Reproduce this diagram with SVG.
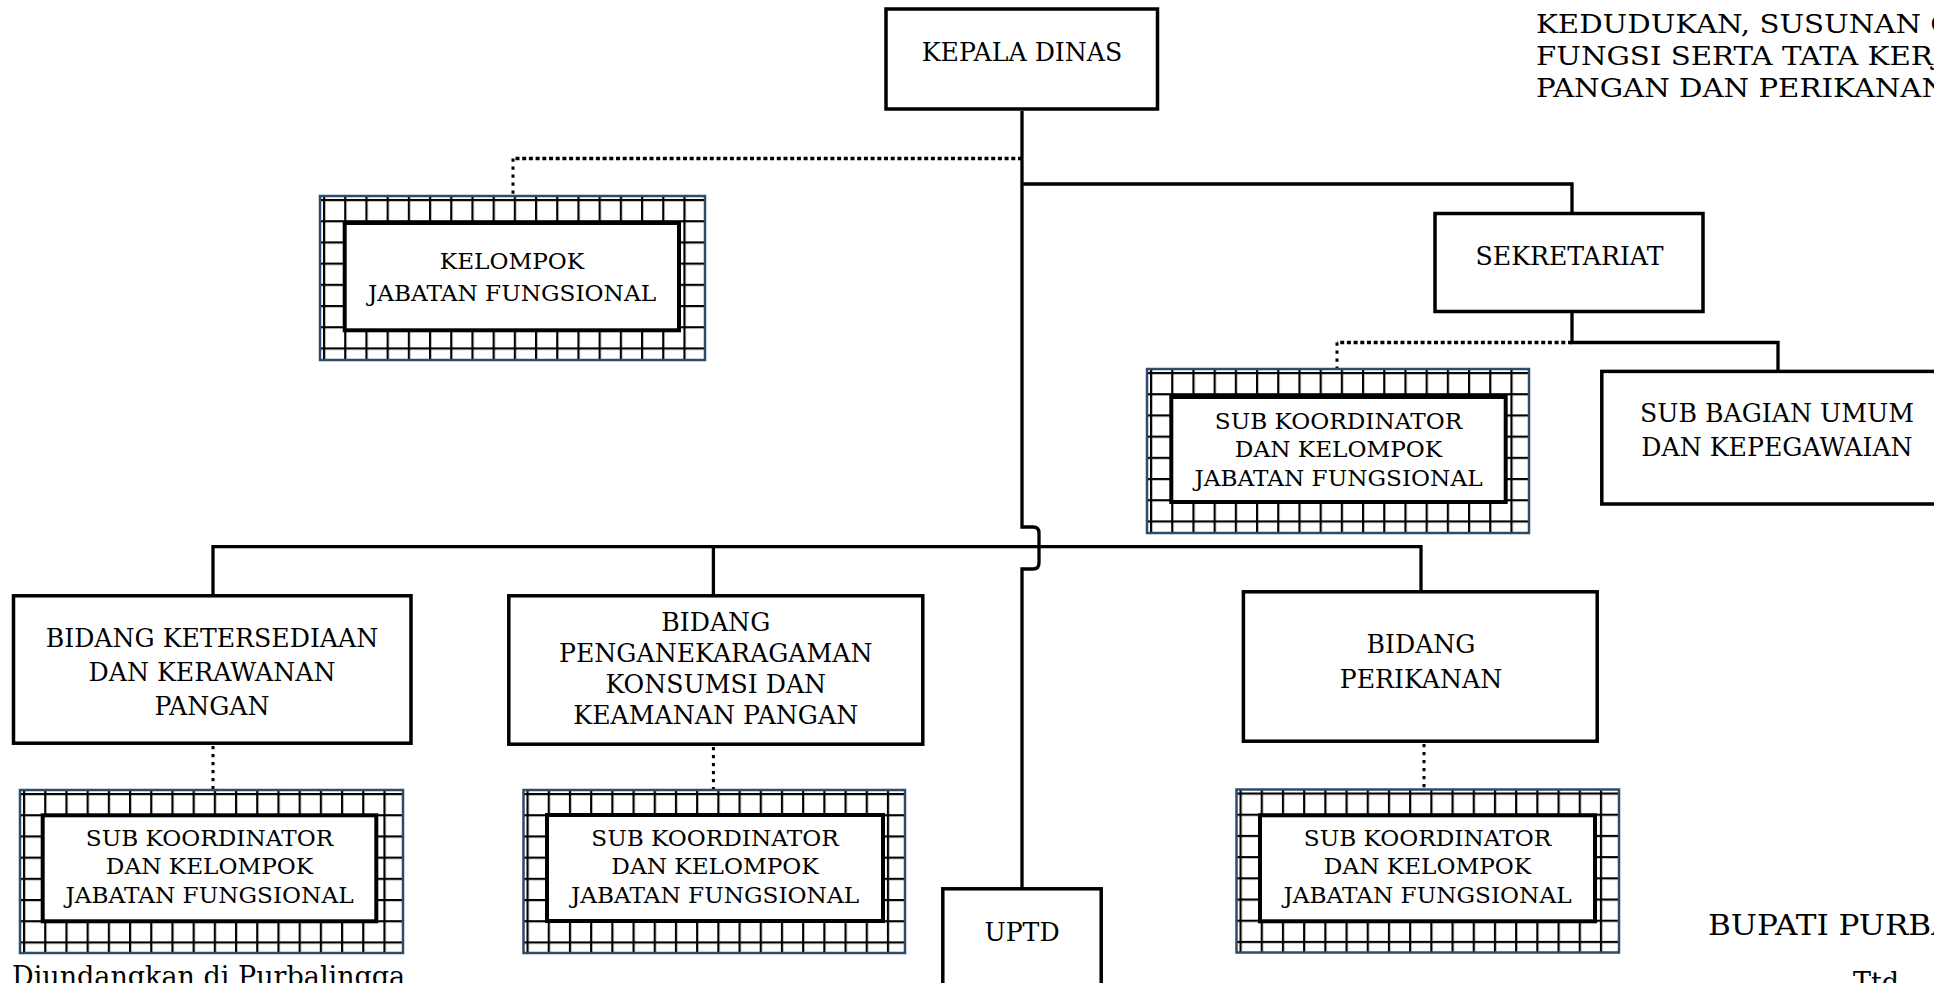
<svg xmlns="http://www.w3.org/2000/svg" width="1934" height="983" viewBox="0 0 1934 983">
<defs>
<pattern id="grid" x="3" y="3" width="21.2" height="21.2" patternUnits="userSpaceOnUse">
<rect width="21.2" height="21.2" fill="#fff"/>
<path d="M1.1,0 V21.2 M0,1.1 H21.2" stroke="#000" stroke-width="2.2" fill="none"/>
</pattern>
<style>
.box{fill:#fff;stroke:#000;stroke-width:3.5}
.pat{fill:url(#grid);stroke:#2f4b6c;stroke-width:2.5}
.inner{fill:#fff;stroke:#000;stroke-width:4}
.t{font-family:"DejaVu Serif","Liberation Serif",serif;font-size:25.2px;fill:#000;text-anchor:middle}
.ts{font-family:"DejaVu Serif","Liberation Serif",serif;font-size:23.2px;fill:#000;text-anchor:middle}
.tl{font-family:"DejaVu Serif","Liberation Serif",serif;font-size:26px;fill:#000}
.solid{fill:none;stroke:#000;stroke-width:3.3}
.doth{fill:none;stroke:#000;stroke-width:3.3;stroke-dasharray:4 2.7}
.dotv{fill:none;stroke:#000;stroke-width:3;stroke-dasharray:3.3 4.7}
</style>
</defs>
<rect width="1934" height="983" fill="#fff"/>

<g id="connectors">
<path class="solid" d="M1022,111 V527 H1033 Q1039,527 1039,533 V563 Q1039,569 1033,569 H1022 V888"/>
<path class="solid" d="M1022,184 H1572 V212"/>
<path class="solid" d="M1572,313 V342.5 H1778 V370"/>
<path class="solid" d="M213,595 V546.7 H1421 V591"/>
<path class="solid" d="M713.4,546.7 V595"/>
<path class="doth" d="M1022,158.5 H513"/>
<path class="dotv" d="M513,158.5 V196"/>
<path class="doth" d="M1572,342.5 H1337"/>
<path class="dotv" d="M1337,342.5 V369"/>
<path class="dotv" d="M213,746 V790"/>
<path class="dotv" d="M713.4,747 V790"/>
<path class="dotv" d="M1424,744 V789"/>
</g>

<g id="kepala-dinas">
<rect class="box" x="886" y="9" width="271.5" height="100"/>
<text class="t" x="1022" y="61">KEPALA DINAS</text>
</g>

<g id="kelompok-jf" transform="translate(320,196)">
<rect class="pat" x="0" y="0" width="385" height="164"/>
<rect class="inner" x="24.7" y="27" width="334.3" height="107.3"/>
<text class="ts" x="192" y="73.3">KELOMPOK</text>
<text class="ts" x="192" y="105">JABATAN FUNGSIONAL</text>
</g>

<g id="sekretariat">
<rect class="box" x="1435" y="213.5" width="268" height="98"/>
<text class="t" x="1569.5" y="264.5">SEKRETARIAT</text>
</g>

<g id="subkoor-sekretariat" transform="translate(1147,369)">
<rect class="pat" x="0" y="0" width="382" height="164"/>
<rect class="inner" x="24.3" y="28" width="334.4" height="105"/>
<text class="ts" x="191.5" y="60">SUB KOORDINATOR</text>
<text class="ts" x="191.5" y="87.7">DAN KELOMPOK</text>
<text class="ts" x="191.5" y="116.7">JABATAN FUNGSIONAL</text>
</g>

<g id="sub-bagian-umum">
<rect class="box" x="1601.8" y="371.4" width="360" height="132.6"/>
<text class="t" x="1777" y="421.7">SUB BAGIAN UMUM</text>
<text class="t" x="1777" y="455.8">DAN KEPEGAWAIAN</text>
</g>

<g id="bidang-ketersediaan">
<rect class="box" x="13.5" y="595.8" width="397.5" height="147.4"/>
<text class="t" x="212" y="647.3">BIDANG KETERSEDIAAN</text>
<text class="t" x="212" y="681">DAN KERAWANAN</text>
<text class="t" x="212" y="715">PANGAN</text>
</g>

<g id="bidang-penganekaragaman">
<rect class="box" x="508.8" y="595.8" width="414" height="148.4"/>
<text class="t" x="715.8" y="631">BIDANG</text>
<text class="t" x="715.8" y="662">PENGANEKARAGAMAN</text>
<text class="t" x="715.8" y="693">KONSUMSI DAN</text>
<text class="t" x="715.8" y="724">KEAMANAN PANGAN</text>
</g>

<g id="bidang-perikanan">
<rect class="box" x="1243.4" y="591.8" width="353.8" height="149.4"/>
<text class="t" x="1421" y="653.3">BIDANG</text>
<text class="t" x="1421" y="688.3">PERIKANAN</text>
</g>

<g id="subkoor-ketersediaan" transform="translate(20,790)">
<rect class="pat" x="0" y="0" width="383" height="163"/>
<rect class="inner" x="22.7" y="25.3" width="333.6" height="106"/>
<text class="ts" x="189.5" y="56">SUB KOORDINATOR</text>
<text class="ts" x="189.5" y="84">DAN KELOMPOK</text>
<text class="ts" x="189.5" y="112.7">JABATAN FUNGSIONAL</text>
</g>

<g id="subkoor-penganekaragaman" transform="translate(523.5,790)">
<rect class="pat" x="0" y="0" width="381.5" height="163"/>
<rect class="inner" x="23.5" y="25" width="336" height="106"/>
<text class="ts" x="191.5" y="56">SUB KOORDINATOR</text>
<text class="ts" x="191.5" y="84">DAN KELOMPOK</text>
<text class="ts" x="191.5" y="112.7">JABATAN FUNGSIONAL</text>
</g>

<g id="subkoor-perikanan" transform="translate(1236.5,789.5)">
<rect class="pat" x="0" y="0" width="382.5" height="163"/>
<rect class="inner" x="23.5" y="25.8" width="335" height="106"/>
<text class="ts" x="191" y="56.5">SUB KOORDINATOR</text>
<text class="ts" x="191" y="84.5">DAN KELOMPOK</text>
<text class="ts" x="191" y="113">JABATAN FUNGSIONAL</text>
</g>

<g id="uptd">
<rect class="box" x="942.8" y="888.8" width="158.4" height="120"/>
<text class="t" x="1022" y="941">UPTD</text>
</g>

<g id="captions">
<text class="tl" transform="translate(1536,32.5) scale(1.125,1)">KEDUDUKAN, SUSUNAN ORGANISASI, TUGAS DAN</text>
<text class="tl" transform="translate(1536,64.5) scale(1.125,1)">FUNGSI SERTA TATA KERJA DINAS KETAHANAN</text>
<text class="tl" transform="translate(1536,96.5) scale(1.125,1)">PANGAN DAN PERIKANAN KABUPATEN PURBALINGGA</text>
<text class="tl" transform="translate(1708,934.5) scale(1.15,1)" style="font-size:27px">BUPATI PURBALINGGA</text>
<text class="tl" transform="translate(1853,992)" style="font-size:27px">Ttd</text>
<text class="tl" transform="translate(12,986)" style="font-size:27px">Diundangkan di Purbalingga</text>
</g>
</svg>
